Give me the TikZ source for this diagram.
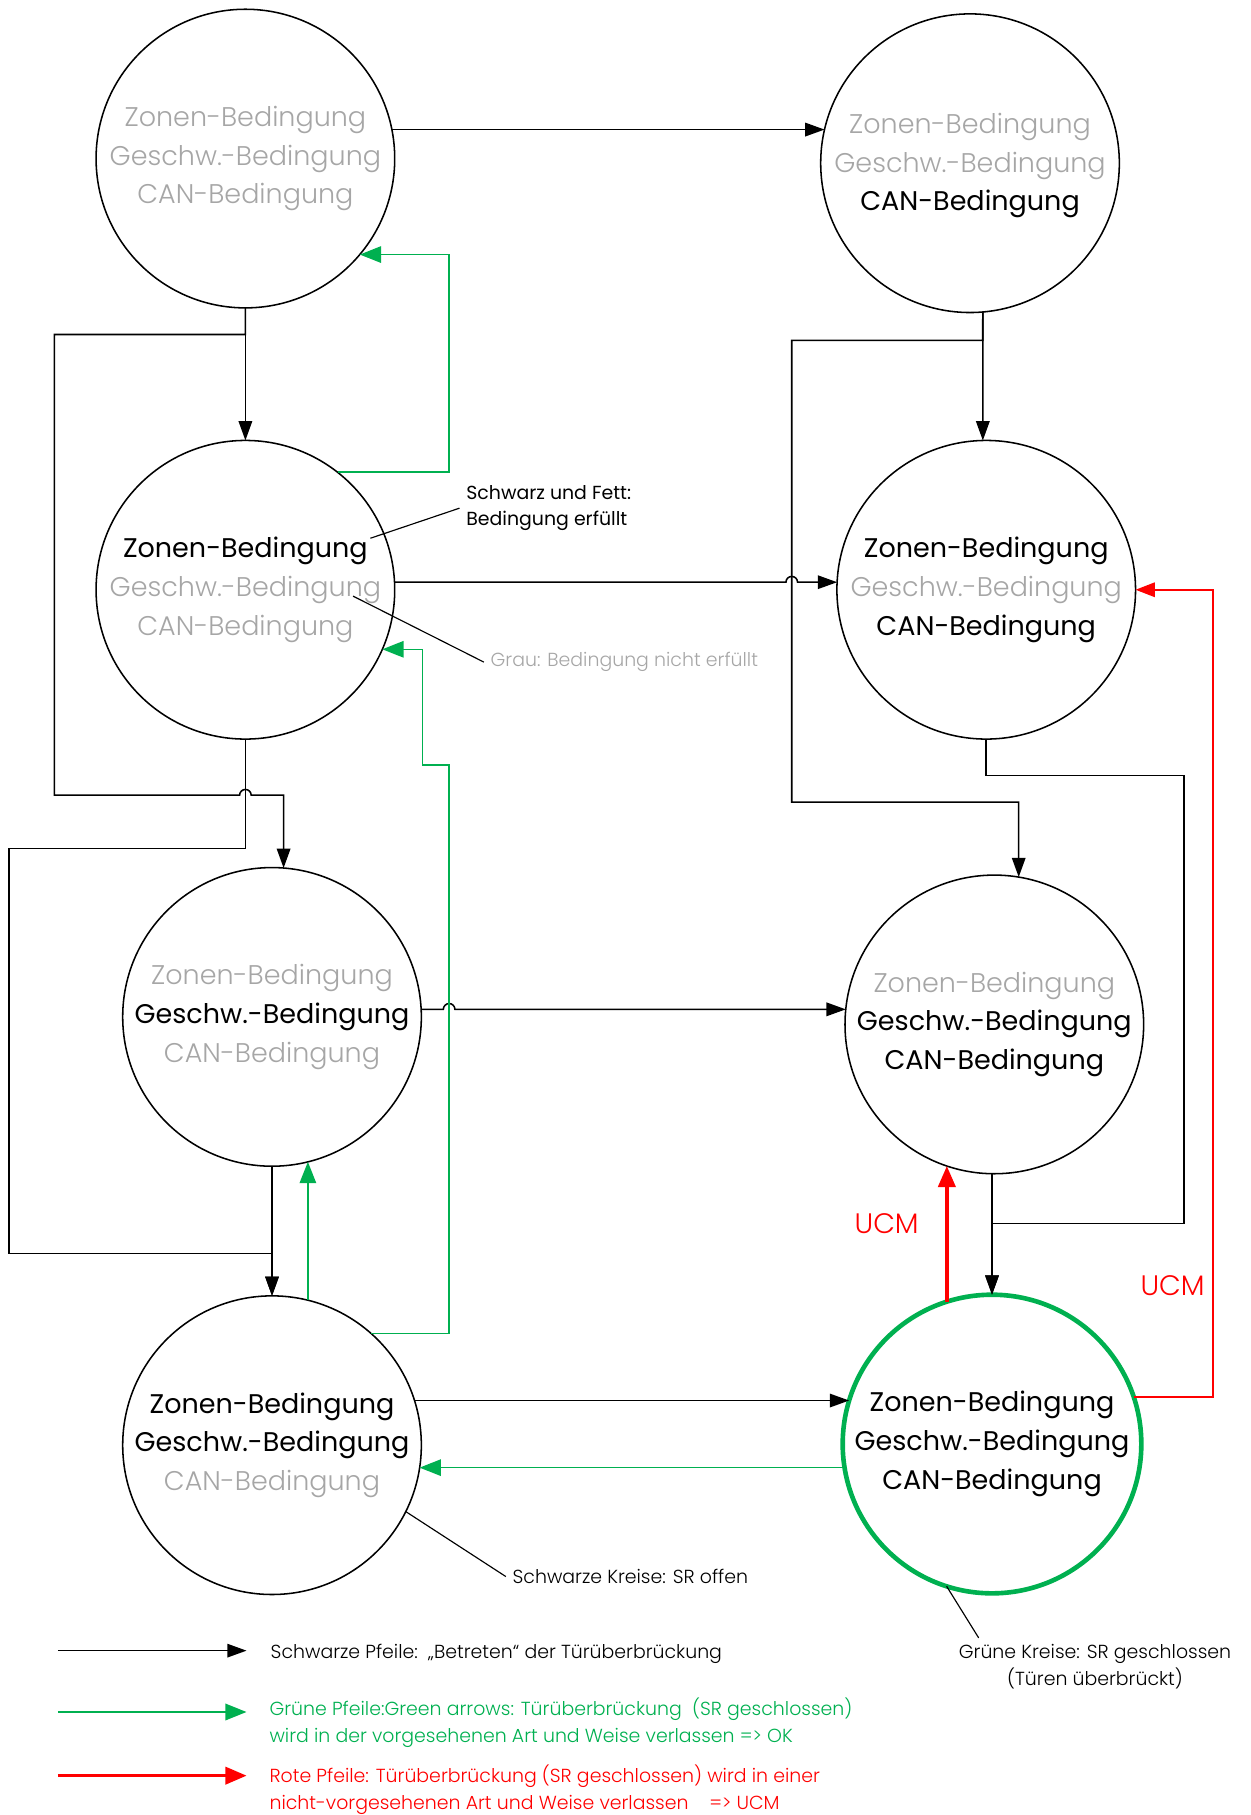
\documentclass[tikz,border=0pt]{standalone}
\usepackage{fontspec}
\setmainfont{Poppins}
\newfontface\condlight{Poppins Light}
\usetikzlibrary{arrows.meta,calc}
\definecolor{okgreen}{HTML}{00B050}
\definecolor{ucmred}{HTML}{FF0000}
\definecolor{dimgray}{HTML}{A6A6A6}
\newcommand\condon[1]{{\color{black}#1}}
\newcommand\condoff[1]{{\condlight\color{dimgray}#1}}
% point on the rim of a state circle (radius 129) at a visual angle (y axis points down)
\newcommand\rimpoint[3]{\coordinate (#1) at ($(#2)+({-(#3)}:129)$);}
\begin{document}
\begin{tikzpicture}[x=0.6pt,y=-0.6pt,
  state/.style={circle, draw, line width=0.8pt, minimum size=154.8pt, inner sep=0pt, outer sep=0pt},
  closed/.style={state, draw=okgreen, line width=2.4pt},
  cond/.style={align=center, font=\fontsize{14.0}{20.1}\selectfont},
  note/.style={font=\fontsize{9.8}{13.8}\selectfont, align=left},
  thinnote/.style={note, font=\condlight\fontsize{9.8}{13.8}\selectfont},
  blk/.style={line width=0.8pt, -{Triangle[length=10pt,width=7pt]}},
  grn/.style={draw=okgreen, line width=0.8pt, -{Triangle[length=11pt,width=8.5pt]}, color=okgreen},
  redthick/.style={draw=ucmred, line width=1.8pt, -{Triangle[length=11pt,width=9pt]}, color=ucmred},
  redthin/.style={draw=ucmred, line width=0.9pt, -{Triangle[length=10pt,width=7.5pt]}, color=ucmred},
  leader/.style={line width=0.6pt},
  ucm/.style={text=ucmred, font=\condlight\fontsize{14.6}{18}\selectfont}
]
\useasboundingbox (0,0) rectangle (1080,1568);

% states
\node[state]  (A) at (212,137) {};
\node[state]  (B) at (838,141) {};
\node[state]  (C) at (212,509.5) {};
\node[state]  (D) at (852,509.5) {};
\node[state]  (E) at (235,878.5) {};
\node[state]  (F) at (859,885) {};
\node[state]  (G) at (235,1248.5) {};
\node[closed] (H) at (857,1247.5) {};

\node[cond] (At) at (A) {\condoff{Zonen-Bedingung}\\\condoff{Geschw.-Bedingung}\\\condoff{CAN-Bedingung}};
\node[cond] (Bt) at ([yshift=-1.2pt]B) {\condoff{Zonen-Bedingung}\\\condoff{Geschw.-Bedingung}\\\condon{CAN-Bedingung}};
\node[cond] (Ct) at (C) {\condon{Zonen-Bedingung}\\\condoff{Geschw.-Bedingung}\\\condoff{CAN-Bedingung}};
\node[cond] (Dt) at (D) {\condon{Zonen-Bedingung}\\\condoff{Geschw.-Bedingung}\\\condon{CAN-Bedingung}};
\node[cond] (Et) at (E) {\condoff{Zonen-Bedingung}\\\condon{Geschw.-Bedingung}\\\condoff{CAN-Bedingung}};
\node[cond] (Ft) at (F) {\condoff{Zonen-Bedingung}\\\condon{Geschw.-Bedingung}\\\condon{CAN-Bedingung}};
\node[cond] (Gt) at (G) {\condon{Zonen-Bedingung}\\\condon{Geschw.-Bedingung}\\\condoff{CAN-Bedingung}};
\node[cond] (Ht) at (H) {\condon{Zonen-Bedingung}\\\condon{Geschw.-Bedingung}\\\condon{CAN-Bedingung}};

% connection points on the circles
\rimpoint{A-out}{A}{11.2}   \rimpoint{B-in}{B}{167}
\rimpoint{E-top}{E}{85.55}
\rimpoint{B-bot}{B}{-85.1}  \rimpoint{D-top}{D}{91.3}
\rimpoint{F-top}{F}{80.6}
\rimpoint{C-out}{C}{2.9}    \rimpoint{D-in}{D}{177.1}
\rimpoint{E-out}{E}{2.9}    \rimpoint{F-in}{F}{174.2}
\rimpoint{G-out}{G}{17.4}   \rimpoint{H-in}{H}{163.1}
\rimpoint{C-ok}{C}{51.9}    \rimpoint{A-ok}{A}{-40}
\rimpoint{G-ok}{G}{48.4}    \rimpoint{C-back}{C}{-23.5}
\rimpoint{G-up}{G}{76.1}    \rimpoint{E-back}{E}{-76.1}
\rimpoint{H-ok}{H}{-170.9}  \rimpoint{G-back}{G}{-8.7}
\rimpoint{H-up}{H}{107.6}   \rimpoint{F-back}{F}{-108.5}
\rimpoint{H-ucm}{H}{18.3}
\rimpoint{G-note}{G}{-26.4} \rimpoint{H-note}{H}{-107.7}

% black transitions (small arcs are line hops over crossing lines)
\draw[blk] (A-out) -- (B-in |- A-out);
\draw[blk] (A.south) -- (C.north);
\draw[blk] (A.south) -- (212,289) -- (47,289) -- (47,687) -- (207,687)
  arc[start angle=180, end angle=360, radius=5] -- (E-top |- 0,687) -- (E-top);
\draw[blk] (C.south) -- (212,733) -- (8,733) -- (8,1083) -- (235,1083) -- (G.north);
\draw[blk] (C-out) -- (C-out -| 679,0) arc[start angle=180, end angle=360, radius=5] -- (D-in |- C-out);
\draw[blk] (B-bot) -- (D-top);
\draw[blk] (B-bot) -- (849,294) -- (684,294) -- (684,693) -- (F-top |- 0,693) -- (F-top);
\draw[blk] (D.south) -- (852,670) -- (1023,670) -- (1023,1057) -- (857,1057) -- (H.north);
\draw[blk] (F.south -| H.north) -- (H.north);
\draw[blk] (E.south) -- (G.north);
\draw[blk] (E-out) -- (E-out -| 383,0) arc[start angle=180, end angle=360, radius=5] -- (F-in |- E-out);
\draw[blk] (G-out) -- (H-in |- G-out);

% green transitions
\draw[grn] (C-ok) -- (C-ok -| 388,0) -- (A-ok -| 388,0) -- (A-ok);
\draw[grn] (G-ok) -- (G-ok -| 388,0) -- (388,661) -- (365,661) -- (C-back -| 365,0) -- (C-back);
\draw[grn] (G-up) -- (E-back -| G-up);
\draw[grn] (H-ok) -- (G-back |- H-ok);

% red transitions
\draw[redthick] (H-up) -- (F-back -| H-up);
\draw[redthin] (H-ucm) -- (H-ucm -| 1048,0) -- (D.east -| 1048,0) -- (D.east);
\node[ucm] (ucm1) at (766,1057) {UCM};
\node[ucm] (ucm2) at (1013,1111) {UCM};

% annotations
\node[note, anchor=west] (noteBold) at (397,439) {Schwarz und Fett:\\Bedingung erfüllt};
\draw[leader] (320,465) -- (noteBold.west);
\node[thinnote, anchor=west, text=dimgray] (noteGray) at (418,572) {Grau: Bedingung nicht erfüllt};
\draw[leader] (305,515) -- (noteGray.west);
\node[thinnote, anchor=west] (noteOpen) at (437,1362) {Schwarze Kreise: SR offen};
\draw[leader] (G-note) -- (noteOpen.west);
\node[thinnote, align=center, anchor=north] (noteClosed) at (946,1415) {Grüne Kreise: SR geschlossen\\(Türen überbrückt)};
\draw[leader] (H-note) -- ([xshift=13.8pt]noteClosed.north west);

% legend
\coordinate (k1a) at (50,1426); \coordinate (k1b) at (213,1426);
\draw[blk] (k1a) -- (k1b);
\node[thinnote, anchor=west] (k1t) at (228,1429) {Schwarze Pfeile:\ \ „Betreten“ der Türüberbrückung};
\coordinate (k2a) at (50,1479); \coordinate (k2b) at (213,1479);
\draw[grn, line width=1.2pt] (k2a) -- (k2b);
\node[thinnote, anchor=west, text=okgreen] (k2t) at (227,1488) {Grüne Pfeile:Green arrows: Türüberbrückung\ \ (SR geschlossen)\\wird in der vorgesehenen Art und Weise verlassen => OK};
\coordinate (k3a) at (50,1534); \coordinate (k3b) at (213,1534);
\draw[redthick, line width=1.5pt] (k3a) -- (k3b);
\node[thinnote, anchor=west, text=ucmred] (k3t) at (227,1546) {Rote Pfeile: Türüberbrückung (SR geschlossen) wird in einer\\nicht-vorgesehenen Art und Weise verlassen\ \ \ \ => UCM};
\end{tikzpicture}
\end{document}
